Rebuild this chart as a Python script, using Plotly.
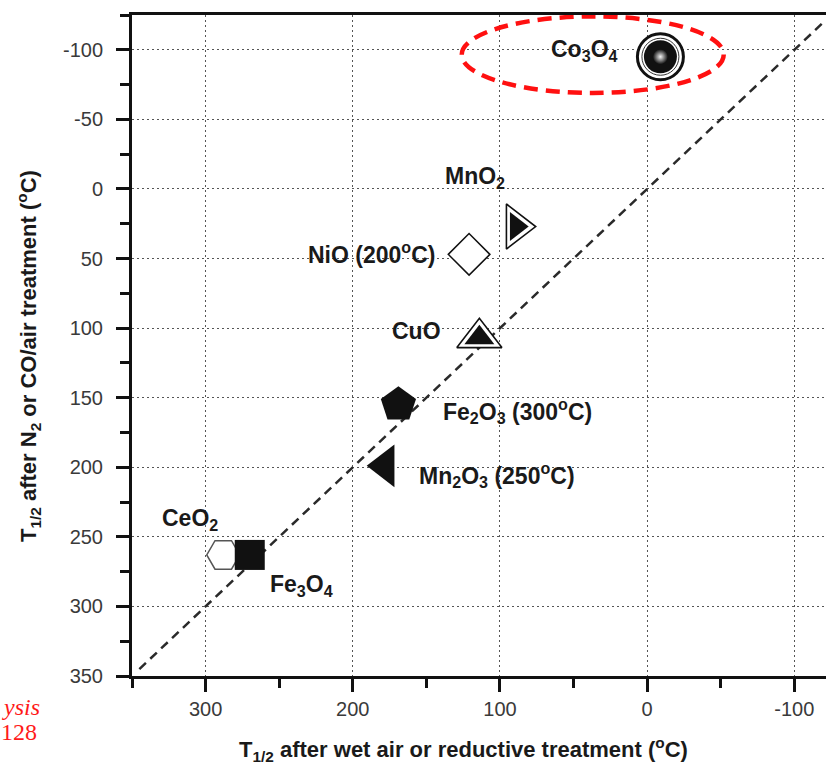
import plotly.graph_objects as go

# ---------------- data ----------------
materials = ["Co3O4", "MnO2", "NiO", "CuO", "Fe2O3", "Mn2O3", "CeO2", "Fe3O4"]
labels = [
    "Co<sub>3</sub>O<sub>4</sub>",
    "MnO<sub>2</sub>",
    "NiO (200<sup>o</sup>C)",
    "CuO",
    "Fe<sub>2</sub>O<sub>3</sub> (300<sup>o</sup>C)",
    "Mn<sub>2</sub>O<sub>3</sub> (250<sup>o</sup>C)",
    "CeO<sub>2</sub>",
    "Fe<sub>3</sub>O<sub>4</sub>",
]
t_wet = [-9, 89, 121, 114, 169, 178, 288, 270]      # x: T1/2 after wet air / reductive
t_n2 = [-95, 27, 47, 107, 155, 199, 263, 263]       # y: T1/2 after N2 or CO/air
x_ticks = [300, 200, 100, 0, -100]
y_ticks = [-100, -50, 0, 50, 100, 150, 200, 250, 300, 350]
diag = [345, -120]                                   # y = x reference line extent
x_title = "T<sub>1/2</sub> after wet air or reductive treatment (<sup>o</sup>C)"
y_title = "T<sub>1/2</sub> after N<sub>2</sub> or CO/air treatment (<sup>o</sup>C)"

# ---------------- layout geometry ----------------
W, H = 826, 767
ML, MR, MT, MB = 132, 0, 15, 91
PW, PH = W - ML - MR, H - MT - MB


def px2paper_x(px):
    return (px - ML) / PW


def px2paper_y(py):
    return (H - MB - py) / PH


FONT = "Arial, Liberation Sans, sans-serif"
idx = {m: i for i, m in enumerate(materials)}

fig = go.Figure()

# dashed diagonal y = x
fig.add_trace(go.Scatter(x=diag, y=diag, mode="lines",
                         line=dict(color="#2a2a2a", width=2.5, dash="9px,6px"),
                         hoverinfo="skip", showlegend=False))


def pt(name, **marker):
    i = idx[name]
    fig.add_trace(go.Scatter(x=[t_wet[i]], y=[t_n2[i]], mode="markers",
                             marker=marker, showlegend=False, name=name))


# Co3O4 : ringed black sphere
pt("Co3O4", symbol="circle", size=46, color="white", line=dict(color="#111", width=3))
pt("Co3O4", symbol="circle", size=37, color="white", line=dict(color="#333", width=1))
pt("Co3O4", symbol="circle", size=33, color="#111", line=dict(width=0))
pt("Co3O4", symbol="circle", size=15, color="#111", line=dict(width=0),
   gradient=dict(type="radial", color="#f4f4f4"))
# MnO2
pt("MnO2", symbol="triangle-right", size=39, color="white", line=dict(color="#111", width=1.6))
pt("MnO2", symbol="triangle-right", size=25, color="#111", line=dict(width=0))
# NiO
pt("NiO", symbol="diamond", size=32, color="white", line=dict(color="#111", width=1.5))
# CuO
pt("CuO", symbol="triangle-up", size=39, color="white", line=dict(color="#111", width=1.6))
pt("CuO", symbol="triangle-up", size=26, color="#111", line=dict(width=0))
# Fe2O3
pt("Fe2O3", symbol="pentagon", size=37, color="#111", line=dict(width=0))
# Mn2O3
pt("Mn2O3", symbol="triangle-left", size=37, color="#111", line=dict(width=0))
# CeO2
pt("CeO2", symbol="hexagon2", size=33, color="white", line=dict(color="#555", width=1.5))
# Fe3O4
pt("Fe3O4", symbol="square", size=30, color="#111", line=dict(width=0))

# labels: (xanchor, xshift, yshift)
label_pos = {
    "Co3O4": ("right", -40, 6),
    "MnO2": ("right", -9, 49),
    "NiO": ("right", -32, 1),
    "CuO": ("right", -36, 7),
    "Fe2O3": ("left", 43, -6),
    "Mn2O3": ("left", 32, -9),
    "CeO2": ("right", -3, 35),
    "Fe3O4": ("left", 18, -31),
}
annotations = []
for m, (xa, xs, ys) in label_pos.items():
    i = idx[m]
    annotations.append(dict(x=t_wet[i], y=t_n2[i], xref="x", yref="y", text=labels[i],
                            showarrow=False, xanchor=xa, yanchor="middle",
                            xshift=xs, yshift=ys,
                            font=dict(family=FONT, size=23, color="#1a1a1a", weight="bold")))

# axis titles
annotations.append(dict(x=px2paper_x(463), y=px2paper_y(749), xref="paper", yref="paper",
                        text=x_title, showarrow=False, xanchor="center", yanchor="middle",
                        font=dict(family=FONT, size=22, color="#1a1a1a", weight="bold")))
annotations.append(dict(x=px2paper_x(29), y=px2paper_y(356), xref="paper", yref="paper",
                        text=y_title, showarrow=False, xanchor="center", yanchor="middle",
                        textangle=-90,
                        font=dict(family=FONT, size=22, color="#1a1a1a", weight="bold")))

# clipped red text at the left edge
annotations.append(dict(x=px2paper_x(0), y=px2paper_y(707), xref="paper", yref="paper",
                        text="<i>ysis</i>", showarrow=False, xanchor="left", yanchor="middle",
                        font=dict(family="Liberation Serif, Times New Roman, serif", size=24,
                                  color="#ff1a1a")))
annotations.append(dict(x=px2paper_x(-1), y=px2paper_y(732), xref="paper", yref="paper",
                        text="128", showarrow=False, xanchor="left", yanchor="middle",
                        font=dict(family="Liberation Serif, Times New Roman, serif", size=24,
                                  color="#ff1a1a")))

# red dashed ellipse around Co3O4
fig.add_shape(type="circle", xref="x", yref="y", x0=126, x1=-52, y0=-124, y1=-69,
              line=dict(color="#ff1010", width=4.5, dash="14px,8px"), layer="above")

axis_common = dict(
    showline=True, linecolor="#111", linewidth=3,
    ticks="outside", ticklen=13, tickwidth=3, tickcolor="#111",
    showgrid=True, gridcolor="#555", gridwidth=1, griddash="2px,3px",
    zeroline=False,
    tickfont=dict(family=FONT, size=20, color="#3a3a3a"),
)

fig.update_layout(
    width=W, height=H,
    margin=dict(l=ML, r=MR, t=MT, b=MB, pad=0),
    paper_bgcolor="white", plot_bgcolor="white",
    showlegend=False,
    annotations=annotations,
    xaxis=dict(
        range=[350, -121.5], mirror=True,
        tickmode="array", tickvals=x_ticks, ticktext=[str(v) for v in x_ticks],
        minor=dict(tickmode="linear", tick0=0, dtick=50, ticks="outside", ticklen=9,
                   tickwidth=3, tickcolor="#111", showgrid=False),
        **axis_common,
    ),
    yaxis=dict(
        range=[350, -125], mirror=False,
        tickmode="array", tickvals=y_ticks, ticktext=[str(v) for v in y_ticks],
        ticklabelstandoff=9,
        minor=dict(tickmode="linear", tick0=0, dtick=25, ticks="outside", ticklen=9,
                   tickwidth=3, tickcolor="#111", showgrid=False),
        **axis_common,
    ),
)

fig.write_html("out.html")
